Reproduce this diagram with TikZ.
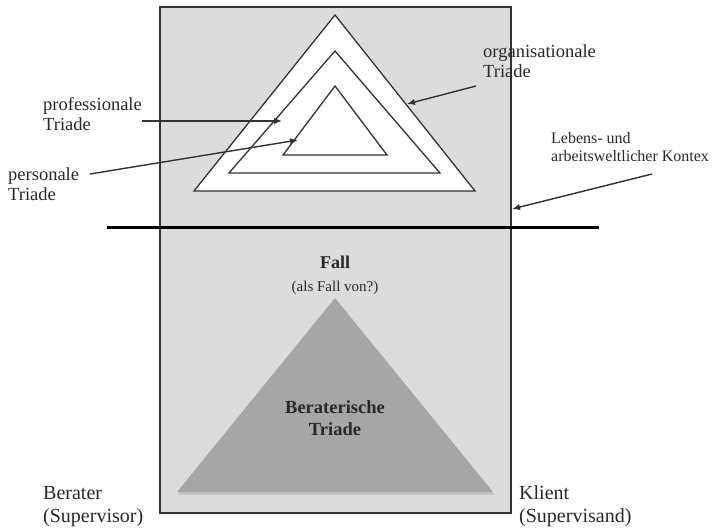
\documentclass[tikz,border=0pt]{standalone}
\usepackage{fontspec}
\setmainfont{Liberation Serif}
\usetikzlibrary{arrows.meta}

\definecolor{bgGray}{RGB}{220,220,220}
\definecolor{coreGray}{RGB}{166,166,166}
\definecolor{lineGray}{RGB}{50,50,50}
\definecolor{txtGray}{RGB}{40,40,40}

\begin{document}
\begin{tikzpicture}[x=1pt,y=-1pt]
    % Stile
    \tikzset{
        frame/.style={fill=bgGray, draw=lineGray, line width=1.4pt},
        ring/.style={fill=white, draw=lineGray, line width=1.3pt},
        core/.style={fill=coreGray},
        label/.style={inner sep=0pt, anchor=base west, align=left, text=txtGray,
            font=\fontsize{18.5}{20}\selectfont},
        pfeil/.style={-{Latex[length=8pt,width=6.5pt]}, line width=1.4pt, draw=lineGray},
    }

    % Bildgrenzen
    \useasboundingbox (0,0) rectangle (719,528);

    % grauer Rahmen
    \draw[frame] (160,7) rectangle (511,513);

    % drei ineinanderliegende Dreiecke (Spitze / links / rechts / Basis)
    \foreach \top/\bl/\br/\by in {15/194/475/191, 51/229/440/173, 86/283/387/155} {
        \draw[ring] (335,\top) -- (\bl,\by) -- (\br,\by) -- cycle;
    }

    % Trennlinie
    \draw[line width=3pt] (107,227) -- (599,227);

    % beraterische Triade
    \fill[black!45, opacity=0.35] (335,300) -- (178,494.5) -- (494,494.5) -- cycle;
    \fill[core] (335,298) -- (177,492) -- (493,492) -- cycle;

    % Beschriftungen (Grundlinie der letzten Zeile)
    \node[label] (prof) at (43,130) {professionale\\Triade};
    \node[label] (pers) at (8,200) {personale\\Triade};
    \node[label] (org) at (483,77) {organisationale\\Triade};
    \node[label, font=\fontsize{16}{18}\selectfont] (kontext) at (551,161)
        {Lebens- und\\arbeitsweltlicher Kontex};
    \node[label, anchor=base, font=\bfseries\fontsize{18}{20}\selectfont] (fall) at (335,268) {Fall};
    \node[label, anchor=base, font=\fontsize{15}{17}\selectfont] (fallvon) at (335,291) {(als Fall von?)};
    \node[label, anchor=base, align=center, font=\bfseries\fontsize{18.5}{22}\selectfont]
        (berat) at (335,435) {Beraterische\\Triade};
    \node[label, font=\fontsize{20}{23}\selectfont] (berater) at (43,522) {Berater\\(Supervisor)};
    \node[label, font=\fontsize{20}{23}\selectfont] (klient) at (519,522) {Klient\\(Supervisand)};

    % Pfeile
    \coordinate (profA) at (142,121);
    \coordinate (profB) at (282,121);
    \coordinate (persA) at (90,174);
    \coordinate (persB) at (298,140);
    \coordinate (orgA) at (476,86);
    \coordinate (orgB) at (407,104);
    \coordinate (kontA) at (652,174);
    \coordinate (kontB) at (512,209);
    \draw[pfeil] (profA) -- (profB);
    \draw[pfeil] (persA) -- (persB);
    \draw[pfeil] (orgA) -- (orgB);
    \draw[pfeil] (kontA) -- (kontB);
\end{tikzpicture}
\end{document}
